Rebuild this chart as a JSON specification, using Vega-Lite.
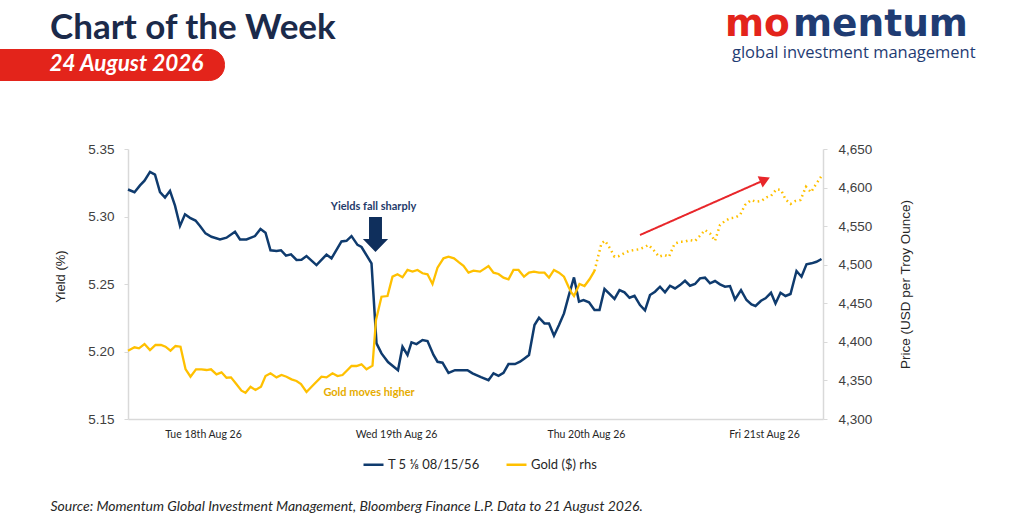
{
  "$schema": "https://vega.github.io/schema/vega-lite/v6.json",
  "description": "Chart of the Week: US 30y bond yield (T 5 1/8 08/15/56) vs gold price, 18-21 Aug 2026.",
  "width": 695,
  "height": 270,
  "autosize": {"type": "none"},
  "padding": {"left": 128, "top": 149, "right": 201, "bottom": 109},
  "background": "white",
  "datasets": {
    "yield": [
      {"t": 0, "yield": 5.320}, {"t": 1.3, "yield": 5.318}, {"t": 2.4, "yield": 5.323}, {"t": 3.3, "yield": 5.3265},
      {"t": 4.4, "yield": 5.333}, {"t": 5.4, "yield": 5.331}, {"t": 6.4, "yield": 5.318}, {"t": 7.4, "yield": 5.314},
      {"t": 8.4, "yield": 5.319}, {"t": 9.4, "yield": 5.308}, {"t": 10.4, "yield": 5.293}, {"t": 11.4, "yield": 5.3016},
      {"t": 12.4, "yield": 5.299}, {"t": 13.5, "yield": 5.297}, {"t": 14.4, "yield": 5.293}, {"t": 15.5, "yield": 5.2875},
      {"t": 16.7, "yield": 5.285}, {"t": 18.4, "yield": 5.283}, {"t": 19.7, "yield": 5.2843}, {"t": 21.4, "yield": 5.2887},
      {"t": 22.4, "yield": 5.283}, {"t": 23.7, "yield": 5.283}, {"t": 25.4, "yield": 5.2855}, {"t": 26.5, "yield": 5.2907},
      {"t": 27.5, "yield": 5.288}, {"t": 28.5, "yield": 5.275}, {"t": 29.7, "yield": 5.2744}, {"t": 30.6, "yield": 5.275},
      {"t": 31.6, "yield": 5.271}, {"t": 32.6, "yield": 5.272}, {"t": 33.7, "yield": 5.2678}, {"t": 34.7, "yield": 5.268},
      {"t": 35.7, "yield": 5.2707}, {"t": 37.7, "yield": 5.264}, {"t": 39.7, "yield": 5.2718}, {"t": 40.7, "yield": 5.269},
      {"t": 42.7, "yield": 5.2815}, {"t": 43.7, "yield": 5.282}, {"t": 44.7, "yield": 5.2855}, {"t": 45.9, "yield": 5.279},
      {"t": 46.7, "yield": 5.2774}, {"t": 48.7, "yield": 5.2653}, {"t": 49.7, "yield": 5.206}, {"t": 50.7, "yield": 5.1986},
      {"t": 52, "yield": 5.1922}, {"t": 54, "yield": 5.1862}, {"t": 54.9, "yield": 5.2035}, {"t": 55.9, "yield": 5.1974},
      {"t": 56.7, "yield": 5.2068}, {"t": 57.7, "yield": 5.2055}, {"t": 58.9, "yield": 5.2085}, {"t": 59.9, "yield": 5.2077},
      {"t": 61.1, "yield": 5.1974}, {"t": 61.9, "yield": 5.1924}, {"t": 62.9, "yield": 5.1917}, {"t": 64.1, "yield": 5.1842},
      {"t": 65.4, "yield": 5.1862}, {"t": 66.7, "yield": 5.1862}, {"t": 67.9, "yield": 5.1862}, {"t": 68.9, "yield": 5.1838},
      {"t": 70.6, "yield": 5.181}, {"t": 72.1, "yield": 5.1788}, {"t": 73.1, "yield": 5.1838}, {"t": 74.1, "yield": 5.182},
      {"t": 75.1, "yield": 5.1842}, {"t": 76.1, "yield": 5.1907}, {"t": 77.4, "yield": 5.1907}, {"t": 78.4, "yield": 5.1924},
      {"t": 79.3, "yield": 5.1949}, {"t": 80.2, "yield": 5.1974}, {"t": 81.3, "yield": 5.2196}, {"t": 82.2, "yield": 5.225},
      {"t": 83.3, "yield": 5.2208}, {"t": 84.2, "yield": 5.2208}, {"t": 85.2, "yield": 5.2117}, {"t": 86.2, "yield": 5.2196},
      {"t": 87.2, "yield": 5.2282}, {"t": 88.1, "yield": 5.2406}, {"t": 89.2, "yield": 5.2549}, {"t": 90.2, "yield": 5.2369},
      {"t": 91.1, "yield": 5.2381}, {"t": 92.2, "yield": 5.2364}, {"t": 93.3, "yield": 5.2307}, {"t": 94.3, "yield": 5.2307},
      {"t": 95.3, "yield": 5.2463}, {"t": 96.3, "yield": 5.2426}, {"t": 97.3, "yield": 5.2389}, {"t": 98.3, "yield": 5.2455},
      {"t": 99.3, "yield": 5.2438}, {"t": 100.3, "yield": 5.2398}, {"t": 101.3, "yield": 5.2413}, {"t": 102.4, "yield": 5.2344},
      {"t": 103.4, "yield": 5.2305}, {"t": 104.4, "yield": 5.2418}, {"t": 105.4, "yield": 5.2443}, {"t": 106.4, "yield": 5.248},
      {"t": 107.4, "yield": 5.2438}, {"t": 108.4, "yield": 5.2487}, {"t": 109.4, "yield": 5.2467}, {"t": 110.4, "yield": 5.2492},
      {"t": 111.4, "yield": 5.2524}, {"t": 112.4, "yield": 5.2487}, {"t": 113.4, "yield": 5.25}, {"t": 114.4, "yield": 5.2542},
      {"t": 115.4, "yield": 5.2547}, {"t": 116.4, "yield": 5.2505}, {"t": 117.4, "yield": 5.2522}, {"t": 118.4, "yield": 5.2497},
      {"t": 119.4, "yield": 5.248}, {"t": 120.4, "yield": 5.2485}, {"t": 121.4, "yield": 5.2386}, {"t": 122.6, "yield": 5.2455},
      {"t": 123.7, "yield": 5.2381}, {"t": 124.7, "yield": 5.2349}, {"t": 125.5, "yield": 5.2337}, {"t": 126.6, "yield": 5.2376},
      {"t": 127.5, "yield": 5.2394}, {"t": 128.6, "yield": 5.2435}, {"t": 129.5, "yield": 5.2356}, {"t": 130.5, "yield": 5.2435},
      {"t": 131.5, "yield": 5.2411}, {"t": 132.5, "yield": 5.2426}, {"t": 133.7, "yield": 5.2596}, {"t": 134.7, "yield": 5.2554},
      {"t": 135.7, "yield": 5.2646}, {"t": 136.7, "yield": 5.2653}, {"t": 137.7, "yield": 5.2665}, {"t": 138.7, "yield": 5.2685}
    ],
    "gold": [
      {"t": 0, "gold": 4388.6, "part": "actual"}, {"t": 1.3, "gold": 4392.9, "part": "actual"}, {"t": 2.2, "gold": 4391.6, "part": "actual"},
      {"t": 3.3, "gold": 4397.2, "part": "actual"}, {"t": 4.4, "gold": 4389.4, "part": "actual"}, {"t": 5.5, "gold": 4395.9, "part": "actual"},
      {"t": 6.6, "gold": 4395.9, "part": "actual"}, {"t": 7.5, "gold": 4393.7, "part": "actual"}, {"t": 8.5, "gold": 4388.6, "part": "actual"},
      {"t": 9.5, "gold": 4394.6, "part": "actual"}, {"t": 10.5, "gold": 4393.7, "part": "actual"}, {"t": 11.5, "gold": 4364.8, "part": "actual"},
      {"t": 12.5, "gold": 4354.9, "part": "actual"}, {"t": 13.6, "gold": 4364.4, "part": "actual"}, {"t": 14.7, "gold": 4364.4, "part": "actual"},
      {"t": 15.7, "gold": 4363.5, "part": "actual"}, {"t": 16.6, "gold": 4364.4, "part": "actual"}, {"t": 17.7, "gold": 4357.9, "part": "actual"},
      {"t": 18.7, "gold": 4360.5, "part": "actual"}, {"t": 19.7, "gold": 4353.5, "part": "actual"}, {"t": 20.6, "gold": 4354, "part": "actual"},
      {"t": 21.7, "gold": 4345, "part": "actual"}, {"t": 22.7, "gold": 4336.7, "part": "actual"}, {"t": 23.5, "gold": 4334.1, "part": "actual"},
      {"t": 24.5, "gold": 4341.9, "part": "actual"}, {"t": 25.5, "gold": 4337.6, "part": "actual"}, {"t": 26.6, "gold": 4341.9, "part": "actual"},
      {"t": 27.5, "gold": 4355.7, "part": "actual"}, {"t": 28.5, "gold": 4359.2, "part": "actual"}, {"t": 29.7, "gold": 4354, "part": "actual"},
      {"t": 30.7, "gold": 4357, "part": "actual"}, {"t": 31.7, "gold": 4354.8, "part": "actual"}, {"t": 32.7, "gold": 4351.4, "part": "actual"},
      {"t": 33.7, "gold": 4349.3, "part": "actual"}, {"t": 34.6, "gold": 4345.4, "part": "actual"}, {"t": 35.7, "gold": 4335, "part": "actual"},
      {"t": 37.2, "gold": 4345, "part": "actual"}, {"t": 38.7, "gold": 4354.9, "part": "actual"}, {"t": 39.7, "gold": 4354, "part": "actual"},
      {"t": 40.9, "gold": 4359.2, "part": "actual"}, {"t": 41.9, "gold": 4355.7, "part": "actual"}, {"t": 42.9, "gold": 4357, "part": "actual"},
      {"t": 43.9, "gold": 4363.5, "part": "actual"}, {"t": 44.7, "gold": 4368.7, "part": "actual"}, {"t": 45.7, "gold": 4368.7, "part": "actual"},
      {"t": 46.7, "gold": 4370.9, "part": "actual"}, {"t": 47.7, "gold": 4364.4, "part": "actual"}, {"t": 48.9, "gold": 4369.1, "part": "actual"},
      {"t": 49.6, "gold": 4428.3, "part": "actual"}, {"t": 50.7, "gold": 4458.5, "part": "actual"}, {"t": 51.9, "gold": 4459.4, "part": "actual"},
      {"t": 52.9, "gold": 4484.5, "part": "actual"}, {"t": 53.9, "gold": 4487.6, "part": "actual"}, {"t": 54.9, "gold": 4483.7, "part": "actual"},
      {"t": 55.9, "gold": 4493.2, "part": "actual"}, {"t": 56.9, "gold": 4491, "part": "actual"}, {"t": 57.9, "gold": 4493.2, "part": "actual"},
      {"t": 58.9, "gold": 4488.9, "part": "actual"}, {"t": 59.9, "gold": 4487.6, "part": "actual"}, {"t": 60.9, "gold": 4475, "part": "actual"},
      {"t": 61.9, "gold": 4496.1, "part": "actual"}, {"t": 63.1, "gold": 4508.3, "part": "actual"}, {"t": 64.1, "gold": 4510.4, "part": "actual"},
      {"t": 65.2, "gold": 4508.3, "part": "actual"}, {"t": 66.2, "gold": 4503.1, "part": "actual"}, {"t": 67.1, "gold": 4498.7, "part": "actual"},
      {"t": 68.1, "gold": 4489.7, "part": "actual"}, {"t": 69.1, "gold": 4492.3, "part": "actual"}, {"t": 70.4, "gold": 4491, "part": "actual"},
      {"t": 71.1, "gold": 4494, "part": "actual"}, {"t": 72.1, "gold": 4498.3, "part": "actual"}, {"t": 73.1, "gold": 4489.7, "part": "actual"},
      {"t": 74.1, "gold": 4488, "part": "actual"}, {"t": 75.1, "gold": 4483.2, "part": "actual"}, {"t": 76.1, "gold": 4481.1, "part": "actual"},
      {"t": 77.1, "gold": 4493.2, "part": "actual"}, {"t": 78.1, "gold": 4493.2, "part": "actual"}, {"t": 79.2, "gold": 4484.5, "part": "actual"},
      {"t": 80.2, "gold": 4489.7, "part": "actual"}, {"t": 81.2, "gold": 4491, "part": "actual"}, {"t": 82.2, "gold": 4489.7, "part": "actual"},
      {"t": 83.3, "gold": 4489.7, "part": "actual"}, {"t": 84.2, "gold": 4483.2, "part": "actual"}, {"t": 85.2, "gold": 4493.2, "part": "actual"},
      {"t": 86.2, "gold": 4489.7, "part": "actual"}, {"t": 87.2, "gold": 4484.5, "part": "actual"}, {"t": 88.1, "gold": 4471.5, "part": "actual"},
      {"t": 88.7, "gold": 4463.7, "part": "actual"}, {"t": 89.2, "gold": 4459.4, "part": "actual"}, {"t": 90.3, "gold": 4475, "part": "actual"},
      {"t": 91.3, "gold": 4472.4, "part": "actual"}, {"t": 92.3, "gold": 4481.1, "part": "actual"}, {"t": 93.3, "gold": 4491.9, "part": "actual"},
      {"t": 93.3, "gold": 4491.9, "part": "projected"}, {"t": 94.1, "gold": 4512.6, "part": "projected"}, {"t": 94.7, "gold": 4527.8, "part": "projected"},
      {"t": 95.4, "gold": 4531.1, "part": "projected"}, {"t": 96.4, "gold": 4521.3, "part": "projected"}, {"t": 97.3, "gold": 4510.4, "part": "projected"},
      {"t": 98.2, "gold": 4511.3, "part": "projected"}, {"t": 99.2, "gold": 4514.8, "part": "projected"}, {"t": 100.2, "gold": 4517.8, "part": "projected"},
      {"t": 101.2, "gold": 4519.1, "part": "projected"}, {"t": 102.2, "gold": 4520, "part": "projected"}, {"t": 103.2, "gold": 4522.6, "part": "projected"},
      {"t": 104.1, "gold": 4525.6, "part": "projected"}, {"t": 105.1, "gold": 4519.1, "part": "projected"}, {"t": 106.2, "gold": 4510.4, "part": "projected"},
      {"t": 107.3, "gold": 4512.6, "part": "projected"}, {"t": 108.2, "gold": 4510.4, "part": "projected"}, {"t": 109.3, "gold": 4526.9, "part": "projected"},
      {"t": 110.3, "gold": 4529.8, "part": "projected"}, {"t": 111.3, "gold": 4529.8, "part": "projected"}, {"t": 112.4, "gold": 4532, "part": "projected"},
      {"t": 113.4, "gold": 4530.7, "part": "projected"}, {"t": 114.4, "gold": 4537.6, "part": "projected"}, {"t": 115.4, "gold": 4545, "part": "projected"},
      {"t": 116.4, "gold": 4540.7, "part": "projected"}, {"t": 117.4, "gold": 4530.7, "part": "projected"}, {"t": 118.4, "gold": 4551.5, "part": "projected"},
      {"t": 119.4, "gold": 4556.7, "part": "projected"}, {"t": 120.4, "gold": 4560.2, "part": "projected"}, {"t": 121.4, "gold": 4561, "part": "projected"},
      {"t": 122.4, "gold": 4564.4, "part": "projected"}, {"t": 123.4, "gold": 4577.4, "part": "projected"}, {"t": 124.6, "gold": 4583.9, "part": "projected"},
      {"t": 125.6, "gold": 4581.7, "part": "projected"}, {"t": 126.7, "gold": 4582.6, "part": "projected"}, {"t": 127.7, "gold": 4587.4, "part": "projected"},
      {"t": 128.6, "gold": 4589.2, "part": "projected"}, {"t": 129.7, "gold": 4597.8, "part": "projected"}, {"t": 130.6, "gold": 4596.9, "part": "projected"},
      {"t": 131.5, "gold": 4584.8, "part": "projected"}, {"t": 132.5, "gold": 4578.7, "part": "projected"}, {"t": 133.5, "gold": 4582.6, "part": "projected"},
      {"t": 134.5, "gold": 4583.9, "part": "projected"}, {"t": 135.6, "gold": 4601.1, "part": "projected"}, {"t": 136.6, "gold": 4593.9, "part": "projected"},
      {"t": 137.5, "gold": 4603.3, "part": "projected"}, {"t": 138.6, "gold": 4614.1, "part": "projected"}
    ],
    "yieldNote": [{"t": 49.1, "yield": 5.307, "label": "Yields fall sharply"}],
    "yieldArrow": [{"t": 49.5, "yield": 5.2867}],
    "goldNote": [{"t": 48.2, "gold": 4333.3, "label": "Gold moves higher"}],
    "goldArrow": [{"t": 102.4, "gold": 4538.5, "t2": 127.4, "gold2": 4610.1}]
  },
  "layer": [
    {
      "data": {"name": "yield"},
      "mark": {"type": "line", "strokeWidth": 2.5},
      "encoding": {
        "x": {
          "field": "t",
          "type": "quantitative",
          "scale": {"domain": [0, 139], "nice": false, "zero": false},
          "axis": {
            "orient": "bottom",
            "values": [15, 53.6, 91.6, 127.2],
            "labelExpr": "datum.value < 30 ? 'Tue 18th Aug 26' : datum.value < 70 ? 'Wed 19th Aug 26' : datum.value < 110 ? 'Thu 20th Aug 26' : 'Fri 21st Aug 26'",
            "ticks": false,
            "labelFont": "Lato",
            "labelFontSize": 10.5,
            "labelColor": "#262626",
            "labelPadding": 10,
            "labelFlush": false,
            "labelOverlap": false,
            "title": "Source: Momentum Global Investment Management, Bloomberg Finance L.P.  Data to 21 August 2026.",
            "titleFont": "Lato",
            "titleFontStyle": "italic",
            "titleFontWeight": "normal",
            "titleFontSize": 14,
            "titleColor": "#262626",
            "titleX": -78,
            "titleY": 87,
            "titleAlign": "left",
            "titleBaseline": "middle",
            "titleLimit": 900
          }
        },
        "y": {
          "field": "yield",
          "type": "quantitative",
          "scale": {"domain": [5.15, 5.35], "nice": false, "zero": false},
          "axis": {
            "orient": "left",
            "values": [5.15, 5.2, 5.25, 5.3, 5.35],
            "format": ".2f",
            "ticks": true,
            "labelPadding": 10,
            "title": "Yield (%)",
            "titleX": -68,
            "titleY": 127,
            "titleAngle": -90,
            "titleAlign": "center",
            "titleBaseline": "middle"
          }
        },
        "color": {
          "datum": "T 5 ⅛ 08/15/56",
          "type": "nominal",
          "scale": {"domain": ["T 5 ⅛ 08/15/56", "Gold ($) rhs"], "range": ["#0F3B6E", "#FFC000"]},
          "legend": {
            "orient": "none",
            "legendX": 234,
            "legendY": 304,
            "direction": "horizontal",
            "title": null,
            "symbolType": "stroke",
            "symbolSize": 400,
            "symbolStrokeWidth": 2.5,
            "labelFont": "Lato",
            "labelFontSize": 13,
            "labelColor": "#262626",
            "labelOffset": 3,
            "columnPadding": 21,
            "padding": 0,
            "labelLimit": 300
          }
        }
      }
    },
    {
      "data": {"name": "yieldNote"},
      "mark": {"type": "text", "font": "Lato", "fontSize": 11, "fontWeight": "bold", "color": "#1F3B6B", "align": "center", "baseline": "middle"},
      "encoding": {
        "x": {"field": "t", "type": "quantitative"},
        "y": {"field": "yield", "type": "quantitative", "scale": {"domain": [5.15, 5.35], "nice": false, "zero": false}, "axis": null},
        "text": {"field": "label"}
      }
    },
    {
      "data": {"name": "yieldArrow"},
      "mark": {"type": "point", "filled": true, "size": 1225, "opacity": 1, "strokeWidth": 0},
      "encoding": {
        "x": {"field": "t", "type": "quantitative"},
        "y": {"field": "yield", "type": "quantitative", "scale": {"domain": [5.15, 5.35], "nice": false, "zero": false}, "axis": null},
        "fill": {
          "datum": "mo",
          "type": "nominal",
          "scale": {"domain": ["mo"], "range": ["#0F2F5C"]},
          "legend": {
            "orient": "none",
            "legendX": 597,
            "legendY": -113,
            "title": "mo",
            "titleFont": "DejaVu Sans",
            "titleFontSize": 37.5,
            "titleFontWeight": "bold",
            "titleColor": "#E3241B",
            "titleBaseline": "alphabetic",
            "titleLimit": 500,
            "titlePadding": 0,
            "padding": 0,
            "labelExpr": "''",
            "symbolOpacity": 0,
            "symbolSize": 0
          }
        },
        "shape": {
          "datum": "mentum",
          "type": "nominal",
          "scale": {
            "domain": ["mentum"],
            "range": ["M-0.37,-1L0.37,-1L0.37,0.26L0.72,0.26L0,1L-0.72,0.26L-0.37,0.26Z"]
          },
          "legend": {
            "orient": "none",
            "legendX": 665,
            "legendY": -113,
            "title": "mentum",
            "titleFont": "DejaVu Sans",
            "titleFontSize": 37.5,
            "titleFontWeight": "bold",
            "titleColor": "#1F3C73",
            "titleBaseline": "alphabetic",
            "titleLimit": 500,
            "titlePadding": 0,
            "padding": 0,
            "labelExpr": "''",
            "symbolOpacity": 0,
            "symbolSize": 0
          }
        }
      }
    },
    {
      "data": {"name": "gold"},
      "transform": [{"filter": "datum.part === 'actual'"}],
      "mark": {"type": "line", "strokeWidth": 2.3},
      "encoding": {
        "x": {"field": "t", "type": "quantitative"},
        "y": {
          "field": "gold",
          "type": "quantitative",
          "scale": {"domain": [4300, 4650], "nice": false, "zero": false},
          "axis": {
            "orient": "right",
            "values": [4300, 4350, 4400, 4450, 4500, 4550, 4600, 4650],
            "format": ",.0f",
            "ticks": true,
            "labelPadding": 11,
            "title": "Price (USD per Troy Ounce)",
            "titleX": 82,
            "titleY": 135,
            "titleAngle": -90,
            "titleAlign": "center",
            "titleBaseline": "middle",
            "titleFontSize": 13.5
          }
        },
        "color": {"datum": "Gold ($) rhs", "type": "nominal", "scale": {"domain": ["T 5 ⅛ 08/15/56", "Gold ($) rhs"], "range": ["#0F3B6E", "#FFC000"]}}
      }
    },
    {
      "data": {"name": "gold"},
      "transform": [{"filter": "datum.part === 'projected'"}],
      "mark": {"type": "line", "color": "#FFC000", "strokeWidth": 2.5, "strokeDash": [1.6, 3.4]},
      "encoding": {
        "x": {"field": "t", "type": "quantitative"},
        "y": {"field": "gold", "type": "quantitative", "scale": {"domain": [4300, 4650], "nice": false, "zero": false}, "axis": null},
        "strokeOpacity": {
          "datum": "Losing credibility…?",
          "type": "nominal",
          "scale": {"type": "ordinal", "domain": ["Losing credibility…?"], "range": [1]},
          "legend": {
            "orient": "none",
            "legendX": 291,
            "legendY": -10,
            "title": "Losing credibility…?",
            "titleFont": "Lato",
            "titleFontSize": 15,
            "titleFontWeight": "bold",
            "titleColor": "#1A1A1A",
            "titleBaseline": "alphabetic",
            "titleLimit": 500,
            "titlePadding": 0,
            "padding": 0,
            "labelExpr": "''",
            "symbolOpacity": 0,
            "symbolSize": 0
          }
        }
      }
    },
    {
      "data": {"name": "goldNote"},
      "mark": {"type": "text", "font": "Lato", "fontSize": 11, "fontWeight": "bold", "color": "#E6AC00", "align": "center", "baseline": "middle"},
      "encoding": {
        "x": {"field": "t", "type": "quantitative"},
        "y": {"field": "gold", "type": "quantitative", "scale": {"domain": [4300, 4650], "nice": false, "zero": false}, "axis": null},
        "text": {"field": "label"},
        "opacity": {
          "datum": "global investment management",
          "type": "nominal",
          "scale": {"type": "ordinal", "domain": ["global investment management"], "range": [1]},
          "legend": {
            "orient": "none",
            "legendX": 604,
            "legendY": -91,
            "title": "global investment management",
            "titleFont": "Open Sans",
            "titleFontSize": 16.5,
            "titleFontWeight": "normal",
            "titleColor": "#1F3C73",
            "titleBaseline": "alphabetic",
            "titleLimit": 500,
            "titlePadding": 0,
            "padding": 0,
            "labelExpr": "''",
            "symbolOpacity": 0,
            "symbolSize": 0
          }
        }
      }
    },
    {
      "data": {"name": "goldArrow"},
      "mark": {"type": "rule", "strokeWidth": 2},
      "encoding": {
        "x": {"field": "t", "type": "quantitative"},
        "x2": {"field": "t2"},
        "y": {"field": "gold", "type": "quantitative", "scale": {"domain": [4300, 4650], "nice": false, "zero": false}, "axis": null},
        "y2": {"field": "gold2"},
        "stroke": {
          "datum": "Chart of the Week",
          "type": "nominal",
          "scale": {"domain": ["Chart of the Week"], "range": ["#E8262A"]},
          "legend": {
            "orient": "none",
            "legendX": -78,
            "legendY": -109.7,
            "title": "Chart of the Week",
            "titleFont": "Lato",
            "titleFontSize": 35,
            "titleFontWeight": "bold",
            "titleColor": "#1B2A4A",
            "titleBaseline": "alphabetic",
            "titleLimit": 500,
            "titlePadding": 0,
            "padding": 0,
            "labelExpr": "''",
            "symbolOpacity": 0,
            "symbolSize": 0
          }
        },
        "strokeDash": {
          "datum": "24 August 2026",
          "type": "nominal",
          "scale": {"domain": ["24 August 2026"], "range": [[1, 0]]},
          "legend": {
            "orient": "none",
            "legendX": -148,
            "legendY": -100,
            "title": null,
            "fillColor": "#E3241B",
            "strokeColor": "#E3241B",
            "cornerRadius": 15,
            "padding": 4,
            "symbolSize": 484,
            "symbolOpacity": 0,
            "symbolStrokeWidth": 0,
            "labelOffset": 43,
            "labelExpr": "datum.label + '⠀'",
            "labelFont": "Lato",
            "labelFontSize": 22.5,
            "labelFontStyle": "italic",
            "labelFontWeight": "bold",
            "labelColor": "#FFFFFF",
            "labelLimit": 400
          }
        }
      }
    },
    {
      "data": {"name": "goldArrow"},
      "mark": {"type": "point", "shape": "triangle-right", "filled": true, "color": "#E8262A", "size": 150, "angle": 336, "opacity": 1, "strokeWidth": 0},
      "encoding": {
        "x": {"field": "t2", "type": "quantitative"},
        "y": {"field": "gold2", "type": "quantitative", "scale": {"domain": [4300, 4650], "nice": false, "zero": false}, "axis": null}
      }
    }
  ],
  "resolve": {"scale": {"y": "independent"}},
  "config": {
    "view": {"stroke": null},
    "axis": {
      "grid": false,
      "domainColor": "#D9D9D9",
      "domainWidth": 1.5,
      "tickColor": "#D9D9D9",
      "tickSize": 4,
      "labelFont": "Liberation Sans",
      "labelFontSize": 13.5,
      "labelColor": "#404040",
      "titleFont": "Liberation Sans",
      "titleFontSize": 13,
      "titleFontWeight": "normal",
      "titleColor": "#262626"
    }
  }
}
